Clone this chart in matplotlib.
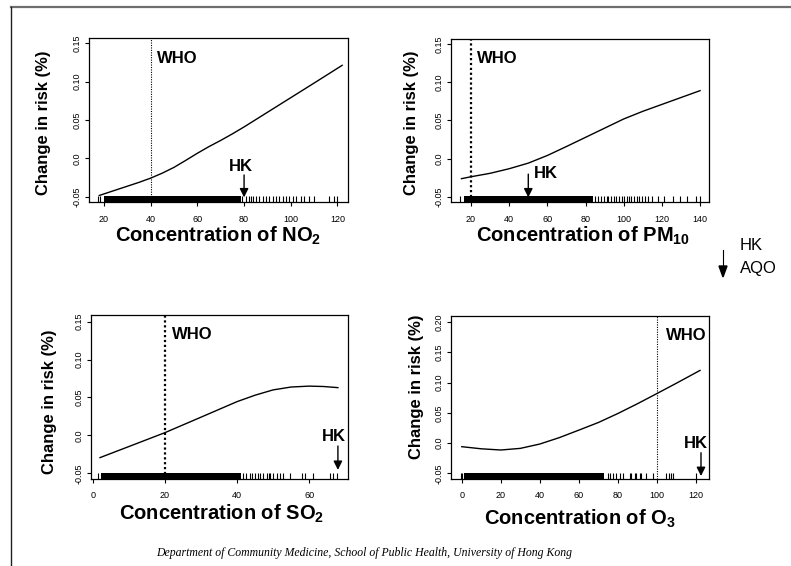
import numpy as np
import matplotlib
matplotlib.use('Agg')
import matplotlib.pyplot as plt
from matplotlib.lines import Line2D

# FONT SETUP

plt.rcParams['font.family'] = ['Liberation Sans', 'DejaVu Sans']
plt.rcParams['mathtext.fontset'] = 'custom'
plt.rcParams['mathtext.rm'] = 'Liberation Sans:bold'
plt.rcParams['mathtext.bf'] = 'Liberation Sans:bold'
plt.rcParams['mathtext.default'] = 'bf'

# DATA

# NO2 panel
no2_x = [18, 25, 30, 35, 40, 45, 50, 55, 60, 65, 70, 75, 80, 90, 100, 110, 122]
no2_y = [-0.048, -0.041, -0.036, -0.031, -0.0255, -0.019, -0.0115, -0.0025, 0.0068,
         0.0155, 0.0235, 0.032, 0.041, 0.060, 0.079, 0.098, 0.121]
no2_rug_dense = (20.2, 78.5)
no2_rug = [17.5, 18.5, 79, 80.8, 82, 83, 84, 85.1, 86.5, 88, 89.4, 90.8, 92.2, 93.6,
           95, 96.5, 97.9, 99.3, 100.8, 102.2, 104.3, 105.8, 107.9, 110, 116.4,
           118.6, 120]

# PM10 panel
pm_x = [15, 20, 30, 40, 50, 60, 70, 80, 90, 100, 110, 120, 130, 140]
pm_y = [-0.026, -0.0235, -0.019, -0.013, -0.0057, 0.0043, 0.016, 0.028, 0.040,
        0.052, 0.062, 0.071, 0.080, 0.089]
pm_rug_dense = (16.5, 84)
pm_rug = [14, 85, 86.5, 88, 89.5, 91, 92, 93.5, 95, 96, 97.5, 99, 100, 101.5, 103,
          104, 105.5, 107, 108, 109.5, 111, 112.5, 115, 118, 121, 126, 129.5, 133,
          138, 140]

# SO2 panel
so2_x = [2, 10, 20, 30, 40, 45, 50, 55, 60, 64, 68]
so2_y = [-0.0293, -0.0147, 0.0036, 0.024, 0.0445, 0.053, 0.060, 0.0638, 0.065,
         0.0645, 0.063]
so2_rug_dense = (2.2, 41)
so2_rug = [1.5, 41.8, 42.5, 43.6, 44.2, 45, 45.8, 46.4, 47.3, 48.2, 48.8, 49.2,
           50.1, 51, 51.9, 52.9, 54.7, 57.9, 58.9, 61.2, 65.8, 66.7, 67.8]

# O3 panel
o3_x = [0, 10, 20, 30, 40, 50, 60, 70, 80, 90, 100, 110, 122]
o3_y = [-0.006, -0.0095, -0.0115, -0.0088, -0.0016, 0.009, 0.0214, 0.034, 0.0489,
        0.065, 0.0819, 0.099, 0.120]
o3_rug_dense = (1, 73)
o3_rug = [-0.5, 0.3, 74.9, 75.7, 77.4, 79.1, 80.9, 82.6, 86, 86.8, 88.5, 89.4, 91.1,
          91.9, 94.5, 97.9, 104.7, 106, 107.2, 108.4, 119.7]

# WHO guideline and HK objective (x positions)
who_lines = [40, 20, 20, 100]
hk_arrows = [80, 50, 68, 122.5]

# y tick labels as printed by R
ytick_vals = [-0.05, 0.0, 0.05, 0.10, 0.15]
ytick_labels = ['-0.05', '0.0', '0.05', '0.10', '0.15']
ytick_vals_o3 = [-0.05, 0.0, 0.05, 0.10, 0.15, 0.20]
ytick_labels_o3 = ['-0.05', '0.0', '0.05', '0.10', '0.15', '0.20']

# FIGURE

W, H = 791, 566
fig = plt.figure(figsize=(W / 100, H / 100), dpi=100)


def box(x0, y0, x1, y1):
    # pixel box (top-left origin) -> figure fraction rect
    return [x0 / W, 1 - y1 / H, (x1 - x0) / W, (y1 - y0) / H]


panels = [
    dict(rect=box(89, 38, 348, 202), x=no2_x, y=no2_y, dense=no2_rug_dense,
         rug=no2_rug, xlim=(13.6, 124.5), ylim=(-0.0565, 0.1565),
         xticks=[20, 40, 60, 80, 100, 120], yticks=ytick_vals, ylabs=ytick_labels,
         who=who_lines[0], who_lw=0.8, who_txt=(42.6, 0.1305),
         hk=hk_arrows[0], hk_txt=(78.8, -0.0106), hk_from=-0.0214, hk_to=-0.0505,
         xlabel='Concentration of NO$_2$', xl=(218, 236), yl=(44, 123)),
    dict(rect=box(451, 39, 709, 202), x=pm_x, y=pm_y, dense=pm_rug_dense,
         rug=pm_rug, xlim=(9.5, 144.7), ylim=(-0.0565, 0.1565),
         xticks=[20, 40, 60, 80, 100, 120, 140], yticks=ytick_vals, ylabs=ytick_labels,
         who=who_lines[1], who_lw=1.6, who_txt=(23.3, 0.1305),
         hk=hk_arrows[1], hk_txt=(59.3, -0.0192), hk_from=-0.0201, hk_to=-0.0505,
         xlabel='Concentration of PM$_{10}$', xl=(583, 236), yl=(411, 123)),
    dict(rect=box(91, 315, 348, 479), x=so2_x, y=so2_y, dense=so2_rug_dense,
         rug=so2_rug, xlim=(-0.5, 70.8), ylim=(-0.0575, 0.1588),
         xticks=[0, 20, 40, 60], yticks=ytick_vals, ylabs=ytick_labels,
         who=who_lines[2], who_lw=1.6, who_txt=(21.9, 0.1325),
         hk=hk_arrows[2], hk_txt=(66.9, -0.0017), hk_from=-0.014, hk_to=-0.0455,
         xlabel='Concentration of SO$_2$', xl=(222, 514), yl=(50, 402)),
    dict(rect=box(451, 316, 709, 479), x=o3_x, y=o3_y, dense=o3_rug_dense,
         rug=o3_rug, xlim=(-5.5, 126.6), ylim=(-0.0594, 0.2099),
         xticks=[0, 20, 40, 60, 80, 100, 120],
         yticks=ytick_vals_o3, ylabs=ytick_labels_o3,
         who=who_lines[3], who_lw=0.8, who_txt=(104.7, 0.178),
         hk=hk_arrows[3], hk_txt=(120, -0.0005), hk_from=-0.016, hk_to=-0.0545,
         xlabel='Concentration of O$_3$', xl=(580, 519), yl=(417, 387)),
]

for p in panels:
    ax = fig.add_axes(p['rect'])

    # fitted curve
    ax.plot(p['x'], p['y'], color='black', lw=1.0)

    # WHO guideline
    ax.axvline(p['who'], color='black', lw=p['who_lw'], ls=(0, (1, 1.2)))
    ax.text(p['who_txt'][0], p['who_txt'][1], 'WHO', fontsize=12,
            fontweight='bold', ha='left', va='center')

    # rug of observations
    ax.axvspan(p['dense'][0], p['dense'][1], ymin=0, ymax=0.035,
               color='black', lw=0)
    ax.vlines(p['rug'], 0, 0.035, color='black', lw=0.8,
              transform=ax.get_xaxis_transform())

    # HK objective
    ax.text(p['hk_txt'][0], p['hk_txt'][1], 'HK', fontsize=12,
            fontweight='bold', ha='center', va='center')
    ax.annotate('', xy=(p['hk'], p['hk_to']), xytext=(p['hk'], p['hk_from']),
                arrowprops=dict(arrowstyle='-|>', color='black', lw=1.0,
                                mutation_scale=13, shrinkA=0, shrinkB=0))

    ax.set_xlim(p['xlim'])
    ax.set_ylim(p['ylim'])
    ax.set_xticks(p['xticks'])
    ax.set_yticks(p['yticks'])
    ax.set_yticklabels(p['ylabs'], rotation=90, va='center')
    ax.tick_params(axis='both', labelsize=6.5, length=3, width=0.8, color='black')
    ax.tick_params(axis='x', pad=6)
    ax.tick_params(axis='y', pad=2.5)
    for s in ax.spines.values():
        s.set_linewidth(0.9)

    # axis titles
    fig.text(p['xl'][0] / W, 1 - p['xl'][1] / H, p['xlabel'], fontsize=14.5,
             fontweight='bold', ha='center', va='center')
    fig.text(p['yl'][0] / W, 1 - p['yl'][1] / H, 'Change in risk (%)',
             fontsize=12, fontweight='bold', rotation=90, ha='center', va='center')

# HK AQO note
fig.add_artist(Line2D([723 / W, 723 / W], [1 - 250 / H, 1 - 266 / H],
                      color='black', lw=0.8))
fig.patches.append(plt.Polygon([[719 / W, 1 - 266 / H], [727 / W, 1 - 266 / H],
                                [723 / W, 1 - 277 / H]], closed=True,
                               color='black', transform=fig.transFigure,
                               figure=fig))
fig.text(740 / W, 1 - 245 / H, 'HK', fontsize=12, ha='left', va='center')
fig.text(740 / W, 1 - 268 / H, 'AQO', fontsize=12, ha='left', va='center')

# footer
fig.text(364 / W, 1 - 553 / H,
         'Department of Community Medicine, School of Public Health, University of Hong Kong',
         fontsize=8.5, style='italic', family='Liberation Serif',
         ha='center', va='center')

# slide frame
fig.add_artist(Line2D([10.7 / W, 1.0], [1 - 6.7 / H, 1 - 6.7 / H],
                      color='#6e6e6e', lw=1.6))
fig.add_artist(Line2D([10.7 / W, 10.7 / W], [1 - 6.7 / H, 0.0],
                      color='#202020', lw=1.0))

fig.savefig('out.png', dpi=100)
